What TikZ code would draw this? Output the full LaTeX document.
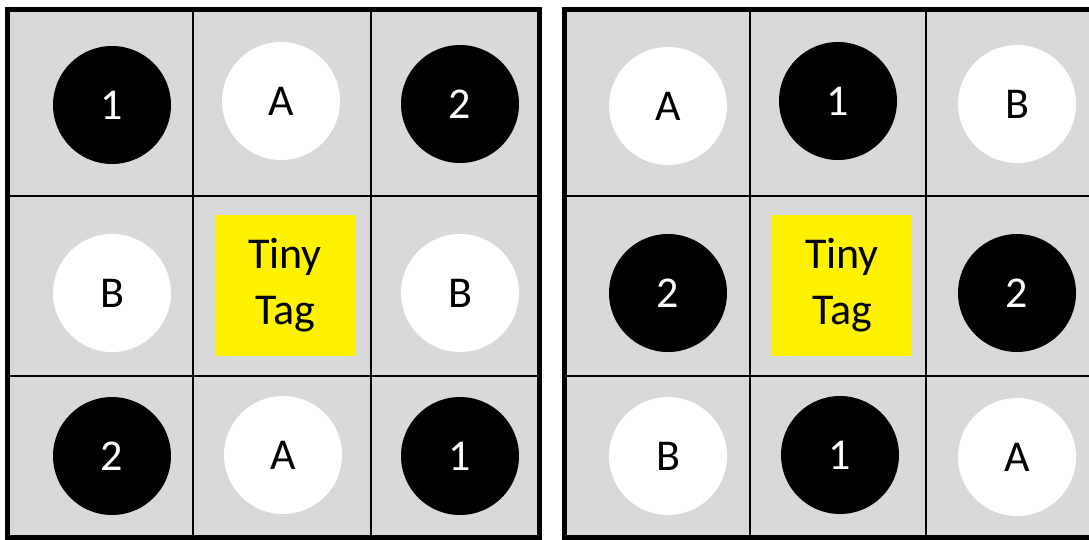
\documentclass[tikz,border=0pt]{standalone}
\usepackage{fontspec}
\setmainfont{Carlito}
\usetikzlibrary{positioning}

\begin{document}
\begin{tikzpicture}[x=1pt,y=-1pt,
  board/.style={draw=black,line width=5pt,fill=boardgray},
  divider/.style={draw=black,line width=2.2pt},
  darkdisc/.style={circle,fill=black,text=white,minimum size=118pt,inner sep=0pt,font=\fontsize{44}{56}\selectfont},
  lightdisc/.style={circle,fill=white,text=black,minimum size=118pt,inner sep=0pt,font=\fontsize{44}{56}\selectfont},
  tagbox/.style={fill=yellow,text=black,minimum width=140pt,minimum height=141pt,inner sep=0pt,align=center,font=\fontsize{44}{56}\selectfont}]
\definecolor{boardgray}{HTML}{D9D9D9}
\useasboundingbox (0,0) rectangle (1089,539);
\clip (0,0) rectangle (1089,539);
% left board
\draw[board] (7.5,9.5) rectangle (539,537);
\draw[divider] (193,9.5)--(193,537) (371,9.5)--(371,537) (7.5,196)--(539,196) (7.5,376)--(539,376);
% right board
\draw[board] (564.5,9.5) rectangle (1096,537);
\draw[divider] (750,9.5)--(750,537) (926,9.5)--(926,537) (564.5,196)--(1096,196) (564.5,376)--(1096,376);
% left markers
\node[darkdisc] (lOne) at (112,105) {1};
\node[lightdisc] (lA) at (281,101) {A};
\node[darkdisc] (lTwo) at (460,104) {2};
\node[lightdisc] (lB) at (112,293) {B};
\node[tagbox] (lTag) at (285,285.5) {Tiny\\Tag};
\node[lightdisc] (lBb) at (460,293) {B};
\node[darkdisc] (lTwob) at (112,456) {2};
\node[lightdisc] (lAb) at (283,455) {A};
\node[darkdisc] (lOneb) at (460,456) {1};
% right markers
\node[lightdisc] (rA) at (668,106) {A};
\node[darkdisc] (rOne) at (838,101) {1};
\node[lightdisc] (rB) at (1017,104) {B};
\node[darkdisc] (rTwo) at (668,293) {2};
\node[tagbox] (rTag) at (842,285.5) {Tiny\\Tag};
\node[darkdisc] (rTwob) at (1017,293) {2};
\node[lightdisc] (rBb) at (668,456) {B};
\node[darkdisc] (rOneb) at (840,455) {1};
\node[lightdisc] (rAb) at (1017,457) {A};
\end{tikzpicture}
\end{document}
